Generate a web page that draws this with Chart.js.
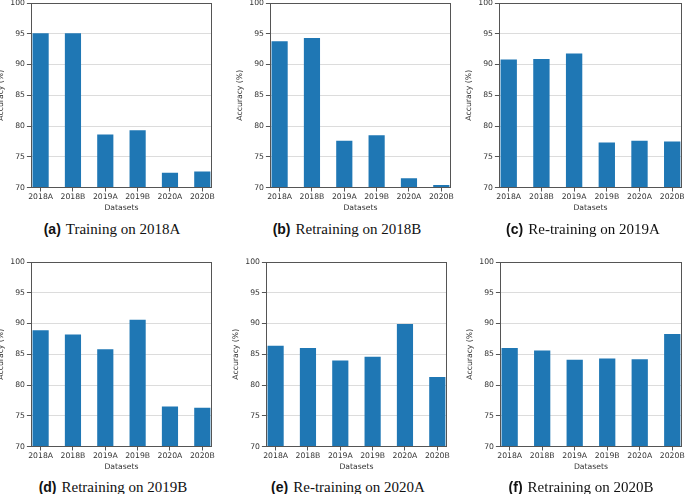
<!DOCTYPE html>
<html>
<head>
<meta charset="utf-8">
<script src="https://cdn.jsdelivr.net/npm/chart.js@4"></script>
<style>
  body { margin: 0; background: #fff; }
  #fig { position: relative; width: 685px; height: 494px; overflow: hidden; background: #fff; }
  canvas { position: absolute; }
  .cap { position: absolute; transform: translate(-50%, -50%); white-space: nowrap; color: #111; }
  .cap b { font-family: "Liberation Sans", Arial, sans-serif; font-size: 14px; font-weight: bold; margin-right: 5px; }
  .cap span { font-family: "Liberation Serif", "Times New Roman", serif; font-size: 15px; }
</style>
</head>
<body>
<div id="fig"></div>
<script>
const datasets = ["2018A", "2018B", "2019A", "2019B", "2020A", "2020B"];
const yTicks = [70, 75, 80, 85, 90, 95, 100];

const train2018A = [95.1, 95.1, 78.6, 79.3, 72.4, 72.6];
const retrain2018B = [93.8, 94.3, 77.6, 78.5, 71.5, 70.4];
const retrain2019A = [90.8, 90.9, 91.8, 77.3, 77.6, 77.5];
const retrain2019B = [88.9, 88.2, 85.8, 90.6, 76.5, 76.3];
const retrain2020A = [86.4, 86.0, 84.0, 84.6, 89.9, 81.3];
const retrain2020B = [86.0, 85.6, 84.1, 84.3, 84.2, 88.3];

// target plot boxes (L/R/T/B) and caption centres
const panels = [
  { tag: "(a)", title: "Training on 2018A", values: train2018A, L: 31, R: 212, T: 3, B: 188, cx: 112, cy: 229 },
  { tag: "(b)", title: "Retraining on 2018B", values: retrain2018B, L: 270, R: 451, T: 3, B: 188, cx: 347, cy: 229 },
  { tag: "(c)", title: "Re-training on 2019A", values: retrain2019A, L: 499, R: 682, T: 3, B: 188, cx: 583, cy: 229 },
  { tag: "(d)", title: "Retraining on 2019B", values: retrain2019B, L: 31, R: 212, T: 262, B: 447, cx: 113, cy: 487 },
  { tag: "(e)", title: "Re-training on 2020A", values: retrain2020A, L: 266, R: 447, T: 262, B: 447, cx: 348, cy: 487 },
  { tag: "(f)", title: "Retraining on 2020B", values: retrain2020B, L: 500, R: 682, T: 262, B: 447, cx: 581, cy: 487 }
];

const tickFont = { family: "DejaVu Sans", size: 7.7 };
const spine = "#555";

const frame = {
  id: "frame",
  afterDraw(c) {
    const a = c.chartArea;
    const ctx = c.ctx;
    ctx.save();
    ctx.strokeStyle = spine;
    ctx.lineWidth = 1;
    ctx.strokeRect(Math.round(a.left) + 0.5, Math.round(a.top) + 0.5,
      Math.round(a.right - a.left) - 1, Math.round(a.bottom - a.top) - 1);
    ctx.restore();
  }
};

function makeConfig(values) {
  return {
    type: "bar",
    data: {
      datasets: [{
        data: values.map((v, i) => ({ x: i, y: v })),
        backgroundColor: "#1f77b4",
        borderWidth: 0,
        barPercentage: 0.5,
        categoryPercentage: 1
      }]
    },
    options: {
      responsive: false,
      animation: false,
      layout: { padding: { top: 8, right: 14, left: 0, bottom: 0 } },
      plugins: { legend: { display: false }, tooltip: { enabled: false } },
      scales: {
        x: {
          type: "linear",
          offset: false,
          min: -0.3,
          max: 5.3,
          afterBuildTicks: s => { s.ticks = datasets.map((_, i) => ({ value: i })); },
          ticks: {
            callback: v => datasets[v],
            autoSkip: false,
            maxRotation: 0,
            minRotation: 0,
            padding: 1,
            color: "#333",
            font: tickFont
          },
          grid: { offset: false, drawOnChartArea: false, tickLength: 4, tickColor: spine },
          border: { display: false },
          title: { display: true, text: "Datasets", color: "#333", font: tickFont, padding: { top: 1, bottom: 0 } }
        },
        y: {
          min: 70,
          max: 100,
          afterBuildTicks: s => { s.ticks = yTicks.map(v => ({ value: v })); },
          ticks: { padding: 2, color: "#333", font: tickFont },
          grid: { color: "#dcdcdc", tickLength: 4, tickColor: spine },
          border: { display: false },
          title: { display: true, text: "Accuracy (%)", color: "#333", font: tickFont, padding: { top: 0, bottom: 3 } }
        }
      }
    },
    plugins: [frame]
  };
}

const fig = document.getElementById("fig");

panels.forEach(p => {
  const canvas = document.createElement("canvas");
  let w = (p.R - p.L) + 50, h = (p.B - p.T) + 40;
  canvas.width = w;
  canvas.height = h;
  fig.appendChild(canvas);

  // build, measure the plot area, resize the canvas so it matches the target box
  let chart = new Chart(canvas, makeConfig(p.values));
  for (let k = 0; k < 3; k++) {
    const a = chart.chartArea;
    const dw = (p.R - p.L) - (a.right - a.left);
    const dh = (p.B - p.T) - (a.bottom - a.top);
    if (Math.abs(dw) < 0.5 && Math.abs(dh) < 0.5) break;
    chart.destroy();
    w += dw; h += dh;
    canvas.width = w;
    canvas.height = h;
    chart = new Chart(canvas, makeConfig(p.values));
  }
  const a = chart.chartArea;
  canvas.style.left = (p.L - a.left) + "px";
  canvas.style.top = (p.T - a.top) + "px";

  const cap = document.createElement("div");
  cap.className = "cap";
  cap.style.left = p.cx + "px";
  cap.style.top = p.cy + "px";
  cap.innerHTML = "<b>" + p.tag + "</b><span>" + p.title + "</span>";
  fig.appendChild(cap);
});
</script>
</body>
</html>
